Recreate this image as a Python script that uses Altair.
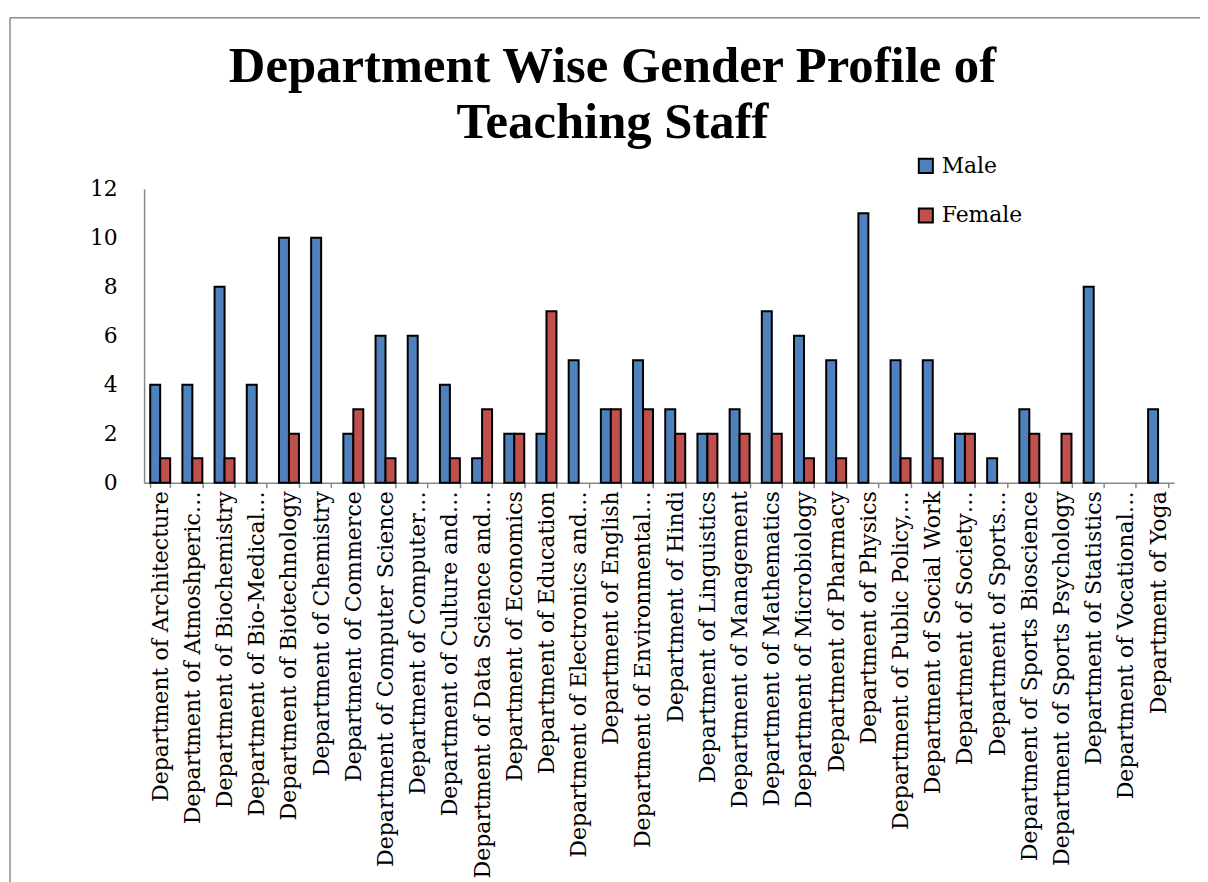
import altair as alt
import pandas as pd

departments = [
    "Department of Architecture",
    "Department of Atmoshperic…",
    "Department of Biochemistry",
    "Department of Bio-Medical…",
    "Department of Biotechnology",
    "Department of Chemistry",
    "Department of Commerce",
    "Department of Computer Science",
    "Department of Computer…",
    "Department of Culture and…",
    "Department of Data Science and…",
    "Department of Economics",
    "Department of Education",
    "Department of Electronics and…",
    "Department of English",
    "Department of Environmental…",
    "Department of Hindi",
    "Department of Linguistics",
    "Department of Management",
    "Department of Mathematics",
    "Department of Microbiology",
    "Department of Pharmacy",
    "Department of Physics",
    "Department of Public Policy,…",
    "Department of Social Work",
    "Department of Society…",
    "Department of Sports…",
    "Department of Sports Bioscience",
    "Department of Sports Psychology",
    "Department of Statistics",
    "Department of Vocational…",
    "Department of Yoga",
]
male = [4, 4, 8, 4, 10, 10, 2, 6, 6, 4, 1, 2, 2, 5, 3, 5, 3, 2, 3, 7, 6, 5, 11, 5, 5, 2, 1, 3, 0, 8, 0, 3]
female = [1, 1, 1, 0, 2, 0, 3, 1, 0, 1, 3, 2, 7, 0, 3, 3, 2, 2, 2, 2, 1, 1, 0, 1, 1, 2, 0, 2, 2, 0, 0, 0]
series = ["Male", "Female"]
colors = ["#4F81BD", "#C0504D"]
y_ticks = [0, 2, 4, 6, 8, 10, 12]

rows = []
for d, m, f in zip(departments, male, female):
    rows.append({"Department": d, "Gender": "Male", "Count": m})
    rows.append({"Department": d, "Gender": "Female", "Count": f})
df = pd.DataFrame(rows)

LABEL_FONT = "DejaVu Serif"
W, H = 1037, 296

bars = alt.Chart(df).transform_filter("datum.Count > 0").mark_bar(
    stroke="black", strokeWidth=2
).encode(
    x=alt.X(
        "Department:N",
        sort=departments,
        scale=alt.Scale(domain=departments, paddingInner=0.38, paddingOuter=0.19),
        axis=alt.Axis(
            title=None,
            labelAngle=-90,
            labelFont=LABEL_FONT,
            labelFontSize=22.2,
            labelColor="black",
            labelPadding=3,
            labelLimit=0,
            tickBand="extent",
            tickSize=5,
            tickColor="#888888",
            tickWidth=1.5,
            domainColor="#888888",
            domainWidth=1.5,
        ),
    ),
    xOffset=alt.XOffset("Gender:N", sort=series, scale=alt.Scale(domain=series, paddingInner=0, paddingOuter=0)),
    y=alt.Y(
        "Count:Q",
        scale=alt.Scale(domain=[0, 12], nice=False),
        axis=alt.Axis(
            title=None,
            values=y_ticks,
            grid=False,
            ticks=False,
            labelFont=LABEL_FONT,
            labelFontSize=22,
            labelColor="black",
            labelPadding=27,
            domainColor="#888888",
            domainWidth=1.5,
        ),
    ),
    color=alt.Color(
        "Gender:N",
        sort=series,
        scale=alt.Scale(domain=series, range=colors),
        legend=alt.Legend(
            title=None,
            orient="none",
            legendX=776,
            legendY=-34,
            symbolType="square",
            symbolSize=200,
            symbolStrokeColor="black",
            symbolStrokeWidth=2,
            labelFont=LABEL_FONT,
            labelFontSize=22,
            labelColor="black",
            rowPadding=26,
            labelOffset=5,
        ),
    ),
)

frame_data = alt.Data(values=[{"k": 1}])
frame_left = alt.Chart(frame_data).mark_rule(color="#8a8a8a", strokeWidth=1.5).encode(
    x=alt.value(-135), y=alt.value(-172), y2=alt.value(H + 450)
)
frame_top = alt.Chart(frame_data).mark_rule(color="#8a8a8a", strokeWidth=1.5).encode(
    x=alt.value(-135), x2=alt.value(W + 200), y=alt.value(-172)
)

chart = alt.layer(frame_left, frame_top, bars).properties(
    width=W,
    height=H,
    autosize=alt.AutoSizeParams(type="none"),
    padding={"left": 137, "top": 179, "right": 26, "bottom": 399},
    title=alt.Title(
        ["Department Wise Gender Profile of", "Teaching Staff"],
        font="Liberation Serif",
        fontSize=51,
        fontWeight="bold",
        color="black",
        lineHeight=57,
        anchor="middle",
        frame="group",
        dx=-47,
        offset=-133,
    ),
).configure_view(stroke=None)

chart.save("out.html", embed_options={"renderer": "svg", "actions": False})
